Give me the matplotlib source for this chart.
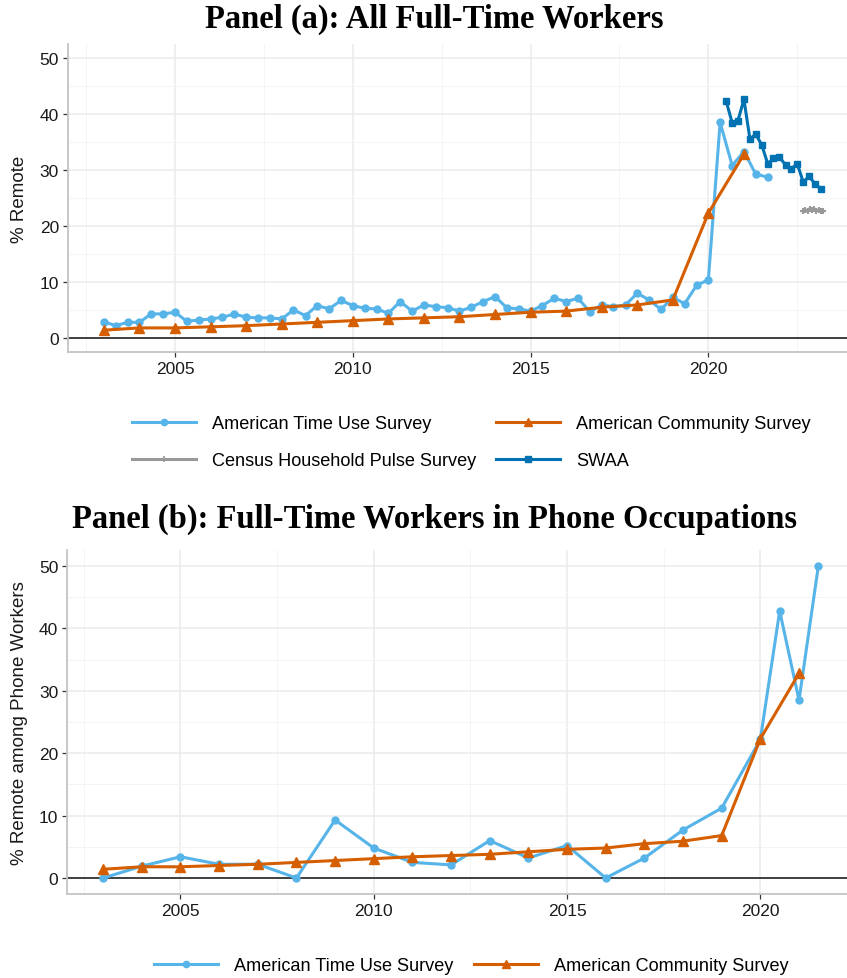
import matplotlib.pyplot as plt
from matplotlib.lines import Line2D

plt.rcParams['font.family'] = ['Liberation Sans', 'DejaVu Sans']

# colours
c_atus = '#56B4E9'
c_acs = '#D55E00'
c_hps = '#999999'
c_swaa = '#0072B2'

# --- Panel (a): all full-time workers ---
atus_dates = [2003.00, 2003.33, 2003.67, 2004.00, 2004.33, 2004.67, 2005.00, 2005.33,
              2005.67, 2006.00, 2006.33, 2006.67, 2007.00, 2007.33, 2007.67, 2008.00,
              2008.33, 2008.67, 2009.00, 2009.33, 2009.67, 2010.00, 2010.33, 2010.67,
              2011.00, 2011.33, 2011.67, 2012.00, 2012.33, 2012.67, 2013.00, 2013.33,
              2013.67, 2014.00, 2014.33, 2014.67, 2015.00, 2015.33, 2015.67, 2016.00,
              2016.33, 2016.67, 2017.00, 2017.33, 2017.67, 2018.00, 2018.33, 2018.67,
              2019.00, 2019.33, 2019.67, 2020.00, 2020.33, 2020.67, 2021.00, 2021.33,
              2021.67]
atus_all = [2.9, 2.2, 2.8, 2.8, 4.3, 4.3, 4.6, 3.0, 3.2, 3.4, 3.7, 4.3, 3.7, 3.6, 3.6,
            3.4, 5.0, 4.0, 5.8, 5.2, 6.7, 5.8, 5.3, 5.2, 4.4, 6.5, 4.8, 5.9, 5.6, 5.4,
            4.8, 5.5, 6.5, 7.4, 5.4, 5.2, 4.8, 5.8, 7.1, 6.5, 7.1, 4.7, 5.9, 5.6, 5.9,
            8.0, 6.8, 5.1, 7.3, 6.1, 9.4, 10.4, 38.5, 30.8, 33.3, 29.3, 28.7]

acs_years = list(range(2003, 2022))
acs_all = [1.4, 1.8, 1.8, 2.0, 2.2, 2.5, 2.8, 3.1, 3.4, 3.6, 3.8, 4.2, 4.6, 4.8, 5.5,
           5.9, 6.8, 22.3, 32.8]

hps_dates = [2022.67, 2022.73, 2022.79, 2022.85, 2022.92, 2022.98, 2023.04, 2023.10,
             2023.16, 2023.22]
hps_all = [22.6, 22.9, 22.6, 23.1, 22.8, 23.0, 22.7, 22.9, 22.7, 22.6]

swaa_dates = [2020.50, 2020.67, 2020.83, 2021.00, 2021.17, 2021.33, 2021.50, 2021.67,
              2021.83, 2022.00, 2022.17, 2022.33, 2022.50, 2022.67, 2022.83, 2023.00,
              2023.17]
swaa_all = [42.3, 38.4, 38.8, 42.6, 35.5, 36.4, 34.5, 31.1, 32.1, 32.3, 30.9, 30.2,
            31.1, 27.8, 28.9, 27.5, 26.6]

# --- Panel (b): phone occupations ---
atus_phone_dates = [2003, 2004, 2005, 2006, 2007, 2008, 2009, 2010, 2011, 2012, 2013,
                    2014, 2015, 2016, 2017, 2018, 2019, 2020, 2020.5, 2021, 2021.5]
atus_phone = [0.0, 1.9, 3.4, 2.2, 2.2, 0.0, 9.3, 4.8, 2.5, 2.1, 6.0, 3.2, 5.2, 0.0,
              3.2, 7.7, 11.2, 22.2, 42.8, 28.5, 50.0]
acs_phone = acs_all

W, H = 847, 979
fig = plt.figure(figsize=(W / 100, H / 100), dpi=100)


def px(x0, y0, x1, y1):
    return [x0 / W, 1 - y1 / H, (x1 - x0) / W, (y1 - y0) / H]


def style(ax, xlim):
    ax.set_xlim(*xlim)
    ax.set_ylim(-2.5, 52.5)
    ax.set_xticks([2005, 2010, 2015, 2020])
    ax.set_xticks([2002.5, 2007.5, 2012.5, 2017.5, 2022.5], minor=True)
    ax.set_yticks([0, 10, 20, 30, 40, 50])
    ax.set_yticks([5, 15, 25, 35, 45], minor=True)
    ax.grid(which='major', color='#ebebeb', lw=1.1)
    ax.grid(which='minor', color='#f2f2f2', lw=0.6)
    ax.set_axisbelow(True)
    for s in ['top', 'right']:
        ax.spines[s].set_visible(False)
    for s in ['left', 'bottom']:
        ax.spines[s].set_color('#c4c4c4')
        ax.spines[s].set_linewidth(1.3)
    ax.tick_params(which='major', length=3.5, width=0.9, color='#333333',
                   labelsize=12.5, labelcolor='#1a1a1a', pad=3)
    ax.tick_params(which='minor', length=0)
    ax.axhline(0, color='#222222', lw=1.2, zorder=1)


lw = 2.2

ax1 = fig.add_axes(px(68, 45, 857, 353))
style(ax1, (2001.99, 2024.18))
ax1.plot(atus_dates, atus_all, color=c_atus, lw=lw, marker='o', ms=5, zorder=3)
ax1.plot(acs_years, acs_all, color=c_acs, lw=lw, marker='^', ms=6.5, zorder=4)
ax1.plot(hps_dates, hps_all, color=c_hps, lw=lw, marker='+', ms=4, mew=1.5, zorder=5)
ax1.plot(swaa_dates, swaa_all, color=c_swaa, lw=lw, marker='s', ms=5, zorder=6)

ax2 = fig.add_axes(px(67.4, 551.4, 857, 894.6))
style(ax2, (2002.075, 2022.425))
ax2.plot(atus_phone_dates, atus_phone, color=c_atus, lw=lw, marker='o', ms=5, zorder=3)
ax2.plot(acs_years, acs_phone, color=c_acs, lw=lw, marker='^', ms=6.5, zorder=4)

# titles
title_kw = dict(ha='center', va='center', fontsize=23.5, fontweight='bold',
                family='Liberation Serif')
fig.text(434 / W, 1 - 19 / H, 'Panel (a): All Full-Time Workers', **title_kw)
fig.text(434 / W, 1 - 519 / H, 'Panel (b): Full-Time Workers in Phone Occupations',
         **title_kw)

fig.text(20 / W, 1 - 199 / H, '% Remote', rotation=90, ha='center', va='center',
         fontsize=13.5, color='#1a1a1a')
fig.text(20 / W, 1 - 723 / H, '% Remote among Phone Workers', rotation=90,
         ha='center', va='center', fontsize=13.5, color='#1a1a1a')

# legends
h_atus = Line2D([], [], color=c_atus, lw=lw, marker='o', ms=4.5)
h_acs = Line2D([], [], color=c_acs, lw=lw, marker='^', ms=5.5)
h_hps = Line2D([], [], color=c_hps, lw=lw, marker='+', ms=4, mew=1.2)
h_swaa = Line2D([], [], color=c_swaa, lw=lw, marker='s', ms=4.5)

leg_kw = dict(loc='center', frameon=False, fontsize=13.1, handlelength=3.5,
              handletextpad=0.9, columnspacing=1.1, numpoints=1, borderpad=0,
              borderaxespad=0)
fig.legend([h_atus, h_hps, h_acs, h_swaa],
           ['American Time Use Survey', 'Census Household Pulse Survey',
            'American Community Survey', 'SWAA'],
           ncol=2, bbox_to_anchor=(471.5 / W, 1 - 443 / H), labelspacing=1.1,
           **leg_kw)
fig.legend([h_atus, h_acs], ['American Time Use Survey', 'American Community Survey'],
           ncol=2, bbox_to_anchor=(471.5 / W, 1 - 967 / H), **leg_kw)

fig.savefig('out.png', dpi=100)
